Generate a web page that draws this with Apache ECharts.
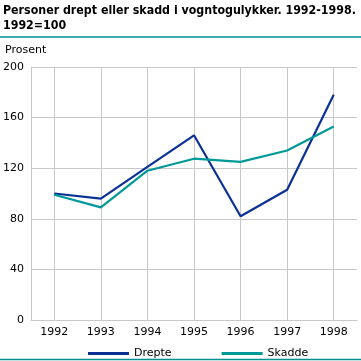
<!DOCTYPE html>
<html><head><meta charset="utf-8">
<script src="https://cdn.jsdelivr.net/npm/echarts@6/dist/echarts.min.js"></script>
<style>html,body{margin:0;padding:0;background:#fff}#c{width:361px;height:361px}</style>
</head><body><div id="c"></div>
<script>
const years = ['1992','1993','1994','1995','1996','1997','1998'];
const drepte = [100, 96, 121, 146, 82, 103, 178];
const skadde = [99, 89, 118, 127.5, 125, 134, 153];
const yTicks = {min: 0, max: 200, interval: 40};
const titleText = 'Personer drept eller skadd i vogntogulykker. 1992-1998.\n1992=100';
const unitText = 'Prosent';

const chart = echarts.init(document.getElementById('c'), null, {renderer: 'canvas'});
const font = 'Verdana, "DejaVu Sans", sans-serif';
chart.setOption({
  animation: false,
  textStyle: {fontFamily: font},
  title: {
    text: titleText, left: 3, top: 3, padding: 0, itemGap: 0,
    textStyle: {fontFamily: '"DejaVu Sans Condensed", "DejaVu Sans", sans-serif', fontWeight: 'bold', fontSize: 12.3, lineHeight: 15, color: '#000'}
  },
  graphic: [
    {type: 'line', shape: {x1: 0, y1: 37, x2: 361, y2: 37}, style: {stroke: '#00918f', lineWidth: 1.5}},
    {type: 'line', shape: {x1: 0, y1: 359.5, x2: 361, y2: 359.5}, style: {stroke: '#00918f', lineWidth: 1.5}},
    {type: 'text', left: 5, top: 45, style: {text: unitText, font: '11px ' + font, fill: '#000'}}
  ],
  legend: {
    top: 343, left: 83, itemWidth: 41, itemHeight: 3, itemGap: 50, itemTextGap: 6, icon: 'rect',
    textStyle: {fontSize: 11, color: '#000', fontFamily: font},
    data: ['Drepte', 'Skadde']
  },
  grid: {left: 29, right: 4, top: 67, bottom: 41, containLabel: false},
  xAxis: {
    type: 'category', data: years, boundaryGap: true,
    axisLine: {show: true, lineStyle: {color: '#c8c8c8'}},
    axisTick: {show: false, alignWithLabel: true},
    splitLine: {show: true, alignWithLabel: true, lineStyle: {color: '#c8c8c8'}},
    axisLabel: {color: '#000', fontSize: 11, margin: 7, fontFamily: font}
  },
  yAxis: {
    type: 'value', min: yTicks.min, max: yTicks.max, interval: yTicks.interval,
    axisLine: {show: true, lineStyle: {color: '#c8c8c8'}},
    axisTick: {show: false},
    splitLine: {show: true, lineStyle: {color: '#c8c8c8'}},
    axisLabel: {color: '#000', fontSize: 11, margin: 7, fontFamily: font}
  },
  series: [
    {name: 'Drepte', type: 'line', data: drepte, symbol: 'none', color: '#0a3194', lineStyle: {width: 2.2, color: '#0a3194'}},
    {name: 'Skadde', type: 'line', data: skadde, symbol: 'none', color: '#00999a', lineStyle: {width: 2.2, color: '#00999a'}}
  ]
});
</script></body></html>
